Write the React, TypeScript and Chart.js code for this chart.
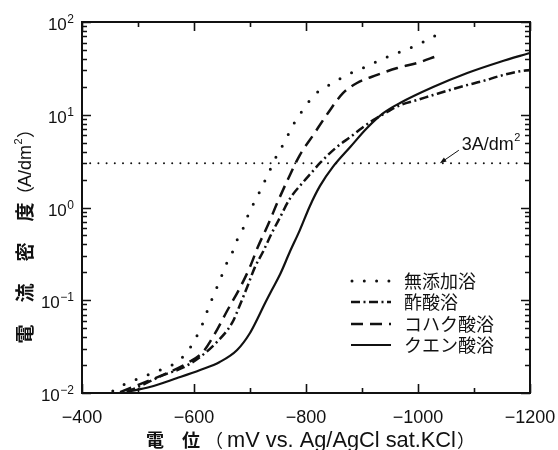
import React, { useEffect, useRef } from "react";
import { Chart, registerables } from "chart.js";
Chart.register(...registerables);

// ---- data (potential in mV vs. Ag/AgCl, current density in A/dm2) ----
const seriesNames = ["無添加浴", "酢酸浴", "コハク酸浴", "クエン酸浴"];

const plainV = [-455, -477, -500, -521, -545, -566, -588, -602, -613, -621, -630, -639, -648, -657, -668, -677, -688, -696, -707, -718, -729, -739, -750, -763, -773, -786, -802, -821, -845, -866, -888, -911, -932, -954, -977, -998, -1020, -1043];
const plainI = [0.0105, 0.0125, 0.0142, 0.016, 0.0182, 0.021, 0.0277, 0.0382, 0.0515, 0.0693, 0.0957, 0.129, 0.174, 0.24, 0.323, 0.447, 0.601, 0.809, 1.12, 1.51, 2.08, 2.8, 3.87, 5.21, 7.02, 9.46, 13.1, 17.6, 21.5, 25.5, 29.6, 33.6, 38.9, 44.1, 49.9, 56.5, 65.6, 78];

const aceticV = [-480, -504, -545, -579, -611, -641, -668, -682, -695, -709, -723, -739, -754, -771, -795, -811, -825, -855, -879, -900, -920, -945, -968, -998, -1027, -1057, -1088, -1116, -1146, -1175, -1200];
const aceticI = [0.0103, 0.0119, 0.0156, 0.0186, 0.0245, 0.0355, 0.0569, 0.0889, 0.139, 0.229, 0.331, 0.531, 0.79, 1.24, 1.88, 2.42, 3.02, 4.49, 5.75, 7.19, 8.77, 10.7, 12.7, 14.4, 16.3, 18.5, 20.9, 23.1, 26.2, 28.9, 30.4];

const succinicV = [-468, -527, -552, -588, -616, -638, -659, -682, -700, -714, -732, -750, -768, -789, -813, -839, -866, -891, -927, -963, -998, -1034];
const succinicI = [0.0102, 0.0142, 0.0164, 0.021, 0.0277, 0.0444, 0.0766, 0.136, 0.229, 0.375, 0.647, 1.17, 2.03, 3.68, 6.05, 10.4, 17.1, 22.0, 26.9, 31.9, 36.1, 43.0];

const citricV = [-480, -521, -570, -611, -646, -677, -700, -714, -727, -739, -754, -771, -789, -807, -825, -848, -879, -909, -938, -968, -1027, -1088, -1146, -1200];
const citricI = [0.0103, 0.0116, 0.0145, 0.0177, 0.0216, 0.0291, 0.0444, 0.0644, 0.0934, 0.129, 0.192, 0.331, 0.571, 1.04, 1.71, 2.74, 4.49, 7.19, 10.4, 13.4, 19.9, 28.2, 37.1, 46.4];

const thresholdValue = 3;
const thresholdRange = [-400, -1200];
const thresholdLabel = "3A/dm";
const arrowTipV = -1039;

const xMajorTicks = [-400, -600, -800, -1000, -1200];
const xMinorTicks = [-500, -700, -900, -1100];
const yExponents = [-2, -1, 0, 1, 2];
const xTitleKanji = ["電", "位"];
const xTitleUnit = "mV vs. Ag/AgCl sat.KCl";
const yTitleKanji = ["電", "流", "密", "度"];
const yTitleUnit = "A/dm";

// line styles
const dashPatterns: number[][] = [[0, 13], [9, 3.5, 2, 3.5], [12, 7], []];
const lineWidths = [3, 2.5, 2.5, 2.2];
const capStyles = ["round", "butt", "butt", "butt"];

const LATIN = '"Liberation Sans", Arial, sans-serif';
const CJK = '"Noto Sans CJK JP", sans-serif';
const INK = "#111";

function pts(v: number[], i: number[]) {
  return v.map((x, k) => ({ x, y: i[k] }));
}

const overlay = {
  id: "overlay",
  afterDraw(chart: any) {
    const { ctx, chartArea: a, scales } = chart;
    const xs = scales.x;
    const ys = scales.y;
    ctx.save();
    ctx.strokeStyle = INK;
    ctx.fillStyle = INK;
    ctx.setLineDash([]);
    // frame
    ctx.lineWidth = 2;
    ctx.strokeRect(a.left, a.top, a.right - a.left, a.bottom - a.top);
    // x ticks (inward, bottom and top)
    ctx.lineWidth = 1.6;
    const xt = [...xMajorTicks.map((v) => [v, 9]), ...xMinorTicks.map((v) => [v, 5])];
    for (const [v, len] of xt) {
      const px = Math.round(xs.getPixelForValue(v)) + 0.5;
      ctx.beginPath();
      ctx.moveTo(px, a.bottom);
      ctx.lineTo(px, a.bottom - len);
      ctx.moveTo(px, a.top);
      ctx.lineTo(px, a.top + len);
      ctx.stroke();
    }
    // y ticks (log)
    for (let e = yExponents[0]; e <= yExponents[yExponents.length - 1]; e++) {
      for (let m = 1; m <= 9; m++) {
        if (e === yExponents[yExponents.length - 1] && m > 1) break;
        const val = m * Math.pow(10, e);
        const py = Math.round(ys.getPixelForValue(val)) + 0.5;
        const len = m === 1 ? 9 : 5;
        ctx.beginPath();
        ctx.moveTo(a.left, py);
        ctx.lineTo(a.left + len, py);
        ctx.moveTo(a.right, py);
        ctx.lineTo(a.right - len, py);
        ctx.stroke();
      }
    }
    // x tick labels
    ctx.font = `18px ${LATIN}`;
    ctx.textAlign = "center";
    ctx.textBaseline = "alphabetic";
    for (const v of xMajorTicks) {
      const txt = v < 0 ? "\u2212" + Math.abs(v) : String(v);
      ctx.fillText(txt, xs.getPixelForValue(v), a.bottom + 30);
    }
    // y tick labels 10^n
    const rightEdge = a.left - 8;
    for (const e of yExponents) {
      const py = ys.getPixelForValue(Math.pow(10, e));
      const expTxt = e < 0 ? "\u2212" + Math.abs(e) : String(e);
      ctx.font = `12px ${LATIN}`;
      const ew = ctx.measureText(expTxt).width;
      ctx.textAlign = "left";
      ctx.fillText(expTxt, rightEdge - ew, py + 1);
      ctx.font = `17px ${LATIN}`;
      ctx.textAlign = "right";
      ctx.fillText("10", rightEdge - ew - 0.5, py + 8);
    }
    // threshold annotation
    const ty = ys.getPixelForValue(thresholdValue);
    const tx = xs.getPixelForValue(arrowTipV);
    ctx.lineWidth = 1;
    ctx.beginPath();
    ctx.moveTo(tx + 19, ty - 13);
    ctx.lineTo(tx + 3, ty - 2);
    ctx.stroke();
    ctx.beginPath();
    const ang = Math.atan2(11, -16);
    ctx.moveTo(tx, ty);
    ctx.lineTo(tx - 7 * Math.cos(ang - 0.35), ty - 7 * Math.sin(ang - 0.35));
    ctx.lineTo(tx - 7 * Math.cos(ang + 0.35), ty - 7 * Math.sin(ang + 0.35));
    ctx.closePath();
    ctx.fill();
    ctx.font = `18px ${LATIN}`;
    ctx.textAlign = "left";
    ctx.fillText(thresholdLabel, tx + 22, ty - 13);
    const lw = ctx.measureText(thresholdLabel).width;
    ctx.font = `11px ${LATIN}`;
    ctx.fillText("2", tx + 22 + lw + 0.5, ty - 22);
    // legend
    const rows = [281, 302, 324, 345];
    const lx0 = 351;
    const lx1 = 391;
    seriesNames.forEach((name, k) => {
      const y = rows[k];
      ctx.lineWidth = lineWidths[k];
      ctx.lineCap = capStyles[k] as CanvasLineCap;
      ctx.setLineDash(k === 0 ? [0, 12.3] : dashPatterns[k]);
      ctx.beginPath();
      ctx.moveTo(lx0 + (k === 0 ? 1 : 0), y);
      ctx.lineTo(lx1, y);
      ctx.stroke();
      ctx.setLineDash([]);
      ctx.lineCap = "butt";
      ctx.font = `18px ${CJK}`;
      ctx.textAlign = "left";
      ctx.textBaseline = "middle";
      ctx.fillText(name, 404, y);
      ctx.textBaseline = "alphabetic";
    });
    // x title
    const xc = [155, 191];
    ctx.font = `bold 18px ${CJK}`;
    ctx.textAlign = "center";
    ctx.textBaseline = "middle";
    xTitleKanji.forEach((c, k) => ctx.fillText(c, xc[k], 440));
    ctx.font = `18px ${CJK}`;
    ctx.textAlign = "left";
    ctx.fillText("（", 205, 440);
    ctx.font = `18px ${LATIN}`;
    const uw = ctx.measureText(xTitleUnit).width;
    const fs = 18 * 229 / uw;
    ctx.font = `${fs.toFixed(2)}px ${LATIN}`;
    ctx.fillText(xTitleUnit, 227, 441);
    ctx.font = `18px ${CJK}`;
    ctx.fillText("）", 457, 440);
    // y title (rotated)
    ctx.save();
    ctx.translate(25, 0);
    ctx.rotate(-Math.PI / 2);
    const yc = [334, 293, 252, 212];
    ctx.font = `bold 19px ${CJK}`;
    ctx.textAlign = "center";
    yTitleKanji.forEach((c, k) => ctx.fillText(c, -yc[k], 0));
    ctx.font = `18px ${CJK}`;
    ctx.textAlign = "left";
    ctx.fillText("（", -204, 0);
    ctx.font = `18px ${LATIN}`;
    ctx.fillText(yTitleUnit, -187, 1);
    const yw = ctx.measureText(yTitleUnit).width;
    ctx.font = `11px ${LATIN}`;
    ctx.fillText("2", -187 + yw + 0.5, -6);
    ctx.font = `18px ${CJK}`;
    ctx.fillText("）", -187 + yw + 7, 0);
    ctx.restore();
    ctx.restore();
  },
};

export default function App() {
  const ref = useRef<HTMLCanvasElement | null>(null);
  useEffect(() => {
    document.body.style.margin = "0";
    const canvas = ref.current;
    if (!canvas) return;
    const series = [pts(plainV, plainI), pts(aceticV, aceticI), pts(succinicV, succinicI), pts(citricV, citricI)];
    const datasets: any[] = [
      {
        label: "threshold",
        data: thresholdRange.map((x) => ({ x, y: thresholdValue })),
        borderColor: INK,
        borderWidth: 2,
        borderDash: [0, 8.2],
        borderCapStyle: "round",
        pointRadius: 0,
        fill: false,
      },
      ...series.map((d, k) => ({
        label: seriesNames[k],
        data: d,
        borderColor: INK,
        borderWidth: lineWidths[k],
        borderDash: dashPatterns[k],
        borderCapStyle: capStyles[k],
        pointRadius: 0,
        fill: false,
        cubicInterpolationMode: "monotone",
      })),
    ];
    const chart = new Chart(canvas, {
      type: "line",
      data: { datasets },
      options: {
        responsive: false,
        animation: false,
        devicePixelRatio: 1,
        layout: { padding: { left: 82, right: 28, top: 22, bottom: 57 } },
        plugins: { legend: { display: false }, tooltip: { enabled: false } },
        scales: {
          x: { type: "linear", min: -1200, max: -400, reverse: true, display: false },
          y: { type: "logarithmic", min: 0.01, max: 100, display: false },
        },
      },
      plugins: [overlay],
    } as any);
    return () => chart.destroy();
  }, []);
  return (
    <div style={{ position: "absolute", left: 0, top: 0, width: 558, height: 450, background: "#fff" }}>
      <canvas ref={ref} width={558} height={450} style={{ display: "block" }} />
    </div>
  );
}
